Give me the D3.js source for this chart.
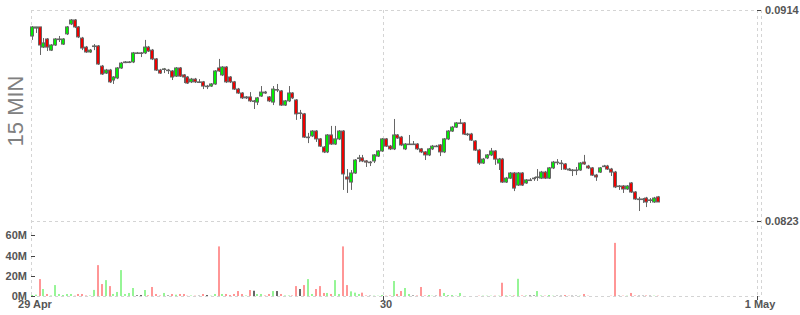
<!DOCTYPE html>
<html>
<head>
<meta charset="utf-8">
<script src="https://cdn.jsdelivr.net/npm/d3@7"></script>
<style>
body { margin: 0; background: #fff; }
text { font-family: "Liberation Sans", Arial, sans-serif; }
</style>
</head>
<body>
<svg id="chart" width="800" height="315"></svg>
<script>
// 15 min candles, 29 Apr -> 30 Apr
var open = [
  0.09028,0.09062,0.09067,0.08980,0.09015,0.08967,0.08989,0.09013,0.08993,0.09037,
  0.09080,0.09097,0.09067,0.09019,0.08980,0.08959,0.08983,0.08985,0.08898,0.08868,
  0.08881,0.08838,0.08847,0.08890,0.08913,0.08914,0.08916,0.08955,0.08955,0.08955,
  0.08980,0.08967,0.08929,0.08881,0.08884,0.08881,0.08877,0.08855,0.08890,0.08860,
  0.08851,0.08830,0.08842,0.08830,0.08830,0.08812,0.08812,0.08821,0.08890,0.08860,
  0.08894,0.08851,0.08830,0.08799,0.08782,0.08761,0.08765,0.08748,0.08743,0.08769,
  0.08786,0.08765,0.08743,0.08797,0.08791,0.08730,0.08748,0.08782,0.08752,0.08696,
  0.08692,0.08590,0.08597,0.08618,0.08584,0.08549,0.08528,0.08601,0.08562,0.08584,
  0.08618,0.08420,0.08398,0.08437,0.08500,0.08502,0.08489,0.08484,0.08489,0.08510,
  0.08532,0.08584,0.08553,0.08541,0.08601,0.08592,0.08541,0.08560,0.08562,0.08562,
  0.08541,0.08528,0.08515,0.08541,0.08553,0.08558,0.08528,0.08584,0.08618,0.08635,
  0.08651,0.08653,0.08605,0.08605,0.08575,0.08536,0.08480,0.08502,0.08515,0.08532,
  0.08480,0.08497,0.08398,0.08415,0.08437,0.08385,0.08437,0.08394,0.08407,0.08415,
  0.08418,0.08415,0.08441,0.08415,0.08459,0.08484,0.08480,0.08476,0.08454,0.08450,
  0.08450,0.08450,0.08484,0.08467,0.08459,0.08428,0.08441,0.08467,0.08467,0.08454,
  0.08441,0.08381,0.08381,0.08368,0.08394,0.08355,0.08325,0.08325,0.08329,0.08321,
  0.08312,0.08334
];
var high = [
  0.09071,0.09067,0.09067,0.09019,0.09019,0.08993,0.09019,0.09028,0.09019,0.09071,
  0.09101,0.09101,0.09071,0.09024,0.08985,0.08972,0.08993,0.08989,0.08903,0.08886,
  0.08886,0.08855,0.08894,0.08916,0.08920,0.08920,0.08959,0.08959,0.08959,0.09011,
  0.08985,0.08972,0.08933,0.08886,0.08890,0.08886,0.08881,0.08894,0.08894,0.08864,
  0.08855,0.08847,0.08847,0.08842,0.08834,0.08817,0.08825,0.08881,0.08929,0.08898,
  0.08898,0.08855,0.08834,0.08804,0.08786,0.08769,0.08786,0.08752,0.08765,0.08812,
  0.08791,0.08769,0.08812,0.08821,0.08795,0.08752,0.08812,0.08786,0.08756,0.08709,
  0.08696,0.08610,0.08622,0.08622,0.08588,0.08553,0.08605,0.08640,0.08640,0.08622,
  0.08622,0.08454,0.08450,0.08497,0.08515,0.08515,0.08493,0.08489,0.08519,0.08536,
  0.08588,0.08588,0.08558,0.08670,0.08605,0.08597,0.08566,0.08601,0.08575,0.08566,
  0.08545,0.08532,0.08545,0.08558,0.08558,0.08562,0.08588,0.08622,0.08640,0.08657,
  0.08670,0.08657,0.08610,0.08610,0.08579,0.08541,0.08502,0.08519,0.08545,0.08536,
  0.08502,0.08502,0.08420,0.08441,0.08441,0.08441,0.08441,0.08411,0.08415,0.08420,
  0.08454,0.08446,0.08446,0.08463,0.08489,0.08497,0.08493,0.08480,0.08459,0.08454,
  0.08463,0.08484,0.08515,0.08472,0.08463,0.08433,0.08463,0.08472,0.08472,0.08459,
  0.08446,0.08385,0.08385,0.08385,0.08398,0.08359,0.08334,0.08329,0.08334,0.08329,
  0.08334,0.08338
];
var low = [
  0.09011,0.09041,0.08946,0.08976,0.08963,0.08963,0.08985,0.09002,0.08989,0.09032,
  0.09075,0.09062,0.09019,0.08967,0.08955,0.08955,0.08967,0.08903,0.08860,0.08864,
  0.08825,0.08821,0.08842,0.08886,0.08911,0.08911,0.08911,0.08950,0.08937,0.08950,
  0.08959,0.08924,0.08877,0.08864,0.08868,0.08864,0.08838,0.08851,0.08851,0.08825,
  0.08821,0.08825,0.08825,0.08825,0.08799,0.08799,0.08808,0.08817,0.08873,0.08855,
  0.08825,0.08825,0.08795,0.08778,0.08756,0.08756,0.08743,0.08713,0.08730,0.08765,
  0.08778,0.08743,0.08730,0.08786,0.08726,0.08726,0.08743,0.08756,0.08666,0.08670,
  0.08588,0.08566,0.08592,0.08571,0.08549,0.08523,0.08523,0.08558,0.08558,0.08579,
  0.08364,0.08351,0.08364,0.08433,0.08484,0.08484,0.08463,0.08467,0.08480,0.08506,
  0.08528,0.08549,0.08536,0.08536,0.08584,0.08553,0.08536,0.08558,0.08558,0.08536,
  0.08523,0.08493,0.08510,0.08536,0.08549,0.08510,0.08523,0.08579,0.08614,0.08631,
  0.08648,0.08601,0.08597,0.08575,0.08532,0.08472,0.08476,0.08497,0.08510,0.08472,
  0.08450,0.08394,0.08394,0.08411,0.08359,0.08381,0.08381,0.08390,0.08403,0.08403,
  0.08403,0.08411,0.08411,0.08411,0.08454,0.08472,0.08450,0.08450,0.08446,0.08424,
  0.08428,0.08446,0.08472,0.08454,0.08424,0.08403,0.08437,0.08463,0.08450,0.08424,
  0.08372,0.08364,0.08351,0.08364,0.08351,0.08321,0.08273,0.08308,0.08290,0.08308,
  0.08308,0.08312
];
var close = [
  0.09067,0.09067,0.08989,0.08998,0.08980,0.08989,0.09015,0.09015,0.09015,0.09067,
  0.09097,0.09067,0.09024,0.08976,0.08959,0.08967,0.08985,0.08907,0.08864,0.08881,
  0.08830,0.08851,0.08890,0.08911,0.08916,0.08916,0.08955,0.08955,0.08955,0.08980,
  0.08963,0.08929,0.08881,0.08868,0.08886,0.08881,0.08851,0.08890,0.08855,0.08851,
  0.08825,0.08842,0.08830,0.08830,0.08812,0.08812,0.08821,0.08877,0.08877,0.08894,
  0.08830,0.08830,0.08799,0.08782,0.08761,0.08765,0.08748,0.08748,0.08761,0.08786,
  0.08782,0.08748,0.08799,0.08797,0.08730,0.08748,0.08782,0.08761,0.08692,0.08696,
  0.08592,0.08592,0.08618,0.08584,0.08553,0.08528,0.08601,0.08562,0.08584,0.08618,
  0.08433,0.08411,0.08437,0.08493,0.08502,0.08489,0.08484,0.08484,0.08515,0.08532,
  0.08584,0.08553,0.08541,0.08601,0.08588,0.08558,0.08562,0.08562,0.08562,0.08541,
  0.08528,0.08515,0.08541,0.08553,0.08553,0.08528,0.08584,0.08618,0.08635,0.08653,
  0.08653,0.08605,0.08605,0.08579,0.08536,0.08480,0.08497,0.08515,0.08532,0.08497,
  0.08497,0.08398,0.08415,0.08437,0.08372,0.08437,0.08385,0.08407,0.08407,0.08415,
  0.08420,0.08441,0.08415,0.08459,0.08484,0.08484,0.08480,0.08454,0.08450,0.08450,
  0.08450,0.08480,0.08476,0.08459,0.08428,0.08420,0.08459,0.08467,0.08454,0.08441,
  0.08377,0.08381,0.08368,0.08381,0.08355,0.08325,0.08325,0.08325,0.08312,0.08321,
  0.08329,0.08312
];
// volume in millions
var volume = [
  1,1.3,16.7,6.9,2,0.5,10.8,2,1,2,
  2,0.3,2,2,0.5,0.5,6,30.5,11.8,15.7,
  9.8,2,4,25.6,2,3,7.9,0.7,1,5.9,
  0.7,8.9,2,0.5,3,0.5,2,1.3,2,2,
  0.3,0.5,0.3,0.3,2,1,0.3,2,49,2,
  2,1,2,4.9,2,0.5,5.9,5.2,2,2,
  0.5,2,4.9,4.9,2,0.5,0.5,0.5,9.8,6.9,
  10.8,16.7,2,6.9,9.8,3,3,2,15.7,2,
  49,10.8,4.6,3.3,2,3.3,0.5,0.3,0.3,0.3,
  1,0.3,0.5,14.8,2,4.9,7.9,2,0.5,0.5,
  8.9,0.5,1,0.3,0.3,6.9,3,1,1,0.3,
  3,0,0,0,0,0.3,0.3,0.3,0.3,0.3,
  0.3,13.1,0.5,0.5,0.5,17,0.5,0.5,0.5,0.5,
  4.9,0.5,0.3,1,0.3,0.3,0.3,1,0.3,0.3,
  0.3,0.3,2,0.3,0,0,0,0,0,0.3,
  52.5,0.3,0.3,0.3,3,0.5,0.3,0.3,0.5,0.3,
  0.3,0.3
];
var firstCandle = new Date(2018, 3, 29, 1, 25),
    stepMs = 15 * 60 * 1000;
var xTickDates = [firstCandle, new Date(2018, 3, 30), new Date(2018, 4, 1)],
    xTickLabels = ["29 Apr", "30", "1 May"];
var priceTicks = [0.0823, 0.0914],
    volTicks = [0, 20, 40, 60];

var data = open.map(function(o, i) {
  return {t: new Date(firstCandle.getTime() + i * stepMs),
          o: o, h: high[i], l: low[i], c: close[i], v: volume[i]};
});

var svg = d3.select("#chart");
var plotLeft = 30.5, plotRight = 760.5, plotTop = 10, priceBottom = 221, volBottom = 296;

var x = d3.scaleTime()
    .domain([new Date(2018, 3, 29, 1, 20), new Date(2018, 4, 1, 0, 15)])
    .range([plotLeft, plotRight]);
var y = d3.scaleLinear().domain([0.0823, 0.0914]).range([priceBottom, plotTop]);
var yv = d3.scaleLinear().domain([0, 74.1]).range([volBottom, priceBottom]);

// grid
var grid = svg.append("g")
    .style("stroke", "#d4d4d4").style("stroke-dasharray", "3,3")
    .style("stroke-width", 1).style("shape-rendering", "crispEdges");
[y(0.0914), y(0.0823), volBottom].forEach(function(gy) {
  grid.append("line").attr("x1", plotLeft).attr("x2", plotRight)
      .attr("y1", Math.round(gy) + 0.5).attr("y2", Math.round(gy) + 0.5);
});
[plotLeft, x(xTickDates[1]), x(xTickDates[2]), plotRight].forEach(function(gx) {
  grid.append("line").attr("y1", plotTop).attr("y2", volBottom)
      .attr("x1", Math.round(gx) + 0.5).attr("x2", Math.round(gx) + 0.5);
});

function colorOf(d, up, down, flat) {
  return d.c > d.o ? up : (d.c < d.o ? down : flat);
}
function cx(d) { return Math.round(x(d.t)); }

// volume bars
svg.append("g").selectAll("rect.vol")
    .data(data)
  .enter().append("rect")
    .attr("class", "vol")
    .attr("x", function(d) { return cx(d) - 1; })
    .attr("width", 2)
    .attr("y", function(d) { return yv(d.v); })
    .attr("height", function(d) { return volBottom - yv(d.v); })
    .style("fill", function(d) { return colorOf(d, "#96f596", "#ff9696", "#666"); });

// candles
var candle = svg.append("g").selectAll("g.candle")
    .data(data)
  .enter().append("g")
    .attr("class", "candle");

candle.append("line")
    .attr("x1", function(d) { return cx(d) + 0.5; })
    .attr("x2", function(d) { return cx(d) + 0.5; })
    .attr("y1", function(d) { return y(d.h); })
    .attr("y2", function(d) { return y(d.l); })
    .style("stroke", "#666").style("stroke-width", 1);

candle.append("rect")
    .attr("x", function(d) { return cx(d) - 1.5; })
    .attr("width", 3)
    .attr("y", function(d) { return y(Math.max(d.o, d.c)); })
    .attr("height", function(d) { return Math.max(Math.abs(y(d.o) - y(d.c)), 0.6); })
    .style("fill", function(d) { return colorOf(d, "#00ee00", "#ee0000", "#666"); })
    .style("stroke", "#666").style("stroke-width", 1);

// price axis (right)
var pa = svg.append("g");
priceTicks.forEach(function(p) {
  var py = Math.round(y(p)) + 0.5;
  pa.append("line").attr("x1", 757).attr("x2", 761).attr("y1", py).attr("y2", py)
      .style("stroke", "#444");
  pa.append("text").attr("x", 765).attr("y", py).attr("dy", "0.35em")
      .style("font-size", "11px").style("font-weight", "bold").style("fill", "#555")
      .text(d3.format(".4f")(p));
});

// volume axis (left)
var va = svg.append("g");
volTicks.forEach(function(v) {
  var vy = Math.round(yv(v)) + 0.5;
  va.append("line").attr("x1", 31).attr("x2", 35).attr("y1", vy).attr("y2", vy)
      .style("stroke", "#444");
  va.append("text").attr("x", 27).attr("y", vy).attr("dy", "0.35em")
      .attr("text-anchor", "end")
      .style("font-size", "11px").style("font-weight", "bold").style("fill", "#555")
      .text(v + "M");
});

// time axis
var ta = svg.append("g");
xTickDates.forEach(function(t, i) {
  var tx = Math.round(x(t)) + 0.5;
  if (i > 0) {
    ta.append("line").attr("x1", tx).attr("x2", tx).attr("y1", volBottom).attr("y2", 300)
        .style("stroke", "#444");
  }
  ta.append("text").attr("x", tx + 2.5).attr("y", 308)
      .attr("text-anchor", "middle")
      .style("font-size", "11px").style("font-weight", "bold").style("fill", "#555")
      .text(xTickLabels[i]);
});

// period label
svg.append("text")
    .attr("transform", "translate(23,111) rotate(-90)")
    .attr("text-anchor", "middle")
    .style("font-size", "22px").style("fill", "#808080")
    .text("15 MIN");
</script>
</body>
</html>
